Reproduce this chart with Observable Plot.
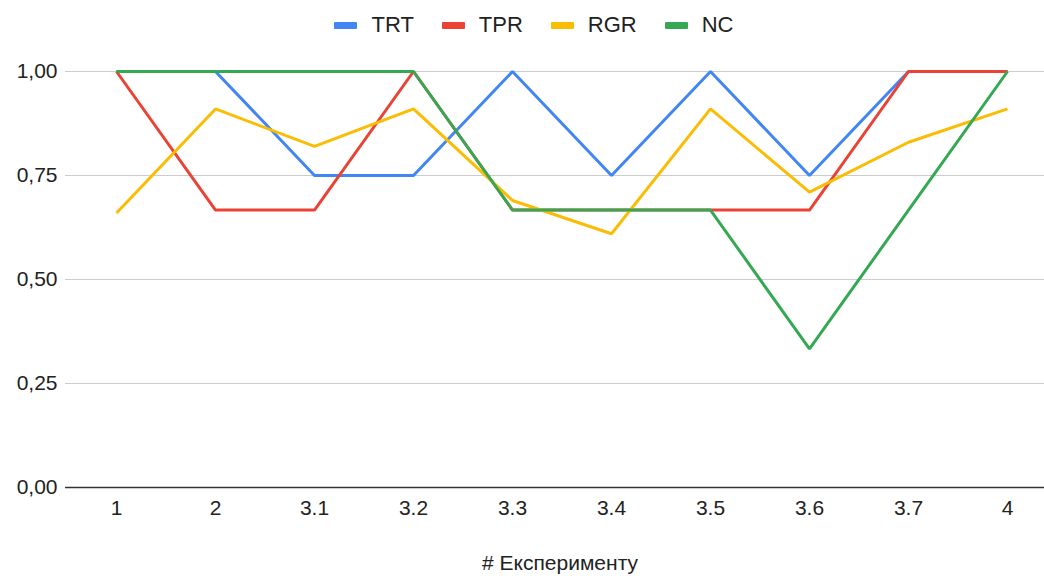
<!DOCTYPE html>
<html>
<head>
<meta charset="utf-8">
<script src="https://cdn.jsdelivr.net/npm/d3@7"></script>
<script src="https://cdn.jsdelivr.net/npm/@observablehq/plot@0.6"></script>
<style>
  html, body { margin: 0; padding: 0; background: #fff; }
  body { width: 1044px; height: 576px; overflow: hidden; font-family: "Liberation Sans", Arial, sans-serif; }
  #legend { height: 50px; display: flex; justify-content: center; align-items: center; padding-left: 24px; box-sizing: border-box; font-size: 22px; color: #222; }
  .item { display: flex; align-items: center; margin: 0 14px; }
  .sw { width: 23px; height: 7px; margin-right: 14px; border-radius: 1px; }
  svg { display: block; }
</style>
</head>
<body>
<div id="legend"></div>
<div id="chart"></div>
<script>
const categories = ["1", "2", "3.1", "3.2", "3.3", "3.4", "3.5", "3.6", "3.7", "4"];
const seriesNames = ["TRT", "TPR", "RGR", "NC"];
const colors = ["#4285F4", "#EA4335", "#FBBC04", "#34A853"];
const TRT = [1, 1, 0.75, 0.75, 1, 0.75, 1, 0.75, 1, 1];
const TPR = [1, 0.667, 0.667, 1, 0.667, 0.667, 0.667, 0.667, 1, 1];
const RGR = [0.66, 0.91, 0.82, 0.91, 0.69, 0.61, 0.91, 0.71, 0.83, 0.91];
const NC  = [1, 1, 1, 1, 0.667, 0.667, 0.667, 0.333, 0.667, 1];
const yTicks = [0, 0.25, 0.5, 0.75, 1];
const xTitle = "# Експерименту";

const seriesValues = [TRT, TPR, RGR, NC];
const data = [];
seriesNames.forEach((s, i) => {
  categories.forEach((c, j) => data.push({series: s, cat: c, value: seriesValues[i][j]}));
});

const legend = document.getElementById("legend");
seriesNames.forEach((s, i) => {
  const it = document.createElement("div");
  it.className = "item";
  it.innerHTML = `<div class="sw" style="background:${colors[i]}"></div><span>${s}</span>`;
  legend.appendChild(it);
});

const fmt = d => d3.format(".2f")(d).replace(".", ",");

const chart = Plot.plot({
  width: 1044,
  height: 526,
  marginTop: 21,
  marginBottom: 89,
  marginLeft: 65,
  marginRight: 0,
  style: {fontFamily: "'Liberation Sans', Arial, sans-serif", fontSize: "21px", color: "#222", background: "#fff"},
  x: {type: "point", domain: categories, padding: 0, range: [115, 1008]},
  y: {domain: [0, 1]},
  color: {domain: seriesNames, range: colors},
  marks: [
    Plot.ruleY(yTicks.filter(d => d > 0), {stroke: "#cccccc", strokeWidth: 1}),
    Plot.ruleY([0], {stroke: "#333333", strokeWidth: 1.5}),
    Plot.axisY({ticks: yTicks, tickSize: 0, tickPadding: 8, tickFormat: fmt, label: null, fontSize: 21}),
    Plot.axisX({tickSize: 0, tickPadding: 13, label: null, fontSize: 21}),
    Plot.lineY(data, {x: "cat", y: "value", z: "series", stroke: "series", strokeWidth: 3, strokeLinejoin: "miter", strokeLinecap: "butt"}),
    Plot.text([xTitle], {frameAnchor: "bottom", dy: 76, dx: 5, lineAnchor: "middle", fontSize: 21, fill: "#222"})
  ]
});
document.getElementById("chart").appendChild(chart);
</script>
</body>
</html>
